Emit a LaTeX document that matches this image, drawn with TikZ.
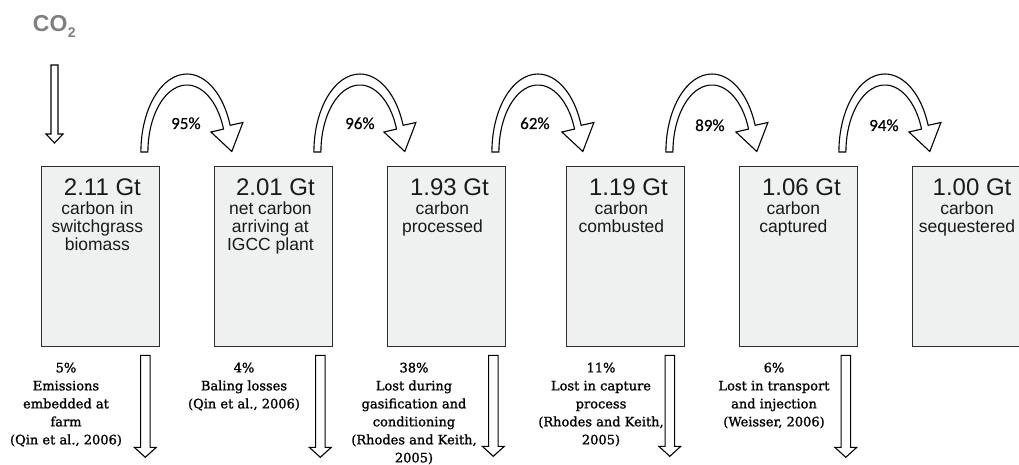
\documentclass[tikz,border=0pt]{standalone}
\usepackage{fontspec}
\setmainfont{Liberation Sans}
\newfontfamily\lossfont[FakeBold=1.2]{DejaVu Serif}
\newfontfamily\pctfont[FakeBold=0.5]{Carlito}
\usetikzlibrary{calc}
\definecolor{boxfill}{HTML}{EFF0F0}
\definecolor{boxline}{HTML}{2E2E2E}
\definecolor{cogray}{HTML}{7F7F7F}
\definecolor{txt}{HTML}{1A1A1A}
\tikzset{
  stockbox/.style={draw=boxline, line width=1.3pt, fill=boxfill, minimum width=117.5pt,
    minimum height=180pt, inner sep=0pt, anchor=north west},
  titletext/.style={font=\fontsize{24}{26}\selectfont, text=txt, anchor=base, inner sep=0pt},
  bodytext/.style={font=\fontsize{17.5}{18}\selectfont, text=txt, align=center, anchor=north, inner sep=0pt},
  losstext/.style={font=\lossfont\fontsize{13}{18}\selectfont, text=black, align=center, anchor=north, inner sep=0pt},
  pcttext/.style={font=\pctfont\fontsize{17}{18}\selectfont, text=black, anchor=base, inner sep=0pt},
  blockarrow/.style={draw=black, line width=1.1pt, fill=white, line join=miter},
}
% bent block arrow around ellipse centre #1
\newcommand\bentarrow[1]{%
  \draw[blockarrow] ($(#1)+(-46,0)$) arc[start angle=180,end angle=20,x radius=46pt,y radius=78pt]
    -- ($(#1)+(56,-29.5)$) -- ($(#1)+(44.9,-0.5)$) -- ($(#1)+(24,-20)$)
    -- ($(#1)+(36.65,-22.92)$) arc[start angle=20,end angle=180,x radius=39pt,y radius=67pt]
    -- cycle;}
% straight down block arrow: #1 top centre, #2 shaft half width, #3 head half width, #4 length, #5 head length
\newcommand\downblock[5]{%
  \draw[blockarrow] ($(#1)+(-#2,0)$) -- ($(#1)+(#2,0)$) -- ($(#1)+(#2,#4-#5)$) -- ($(#1)+(#3,#4-#5)$)
    -- ($(#1)+(0,#4)$) -- ($(#1)+(-#3,#4-#5)$) -- ($(#1)+(-#2,#4-#5)$) -- cycle;}
\begin{document}
\begin{tikzpicture}[x=1pt,y=-1pt]
\useasboundingbox (0,0) rectangle (1019,465);
\clip (0,0) rectangle (1019,465);
\fill[white] (0,0) rectangle (1019,465);

% CO2
\node[anchor=base west, inner sep=0pt, text=cogray, font=\bfseries\fontsize{23}{23}\selectfont] (co2) at (32.7,31.7)
  {CO\kern0.5pt\raisebox{-6.3pt}{\fontsize{14}{14}\selectfont 2}};
\coordinate (a0) at (54.5,65);
\downblock{a0}{3.5}{8.5}{78}{9}

% boxes
\node[stockbox] (b1) at (41,166) {};
\node[stockbox] (b2) at (214,166) {};
\node[stockbox] (b3) at (387,166) {};
\node[stockbox] (b4) at (566,166) {};
\node[stockbox] (b5) at (739,166) {};
\node[stockbox, minimum width=125pt] (b6) at (912,166) {};

\node[titletext] (t1) at ($(b1.north)+(2,29)$) {2.11 Gt};
\node[bodytext]  (s1) at ($(b1.north)+(-3,36)$) {carbon in\\switchgrass\\biomass};
\node[titletext] (t2) at ($(b2.north)+(2,29)$) {2.01 Gt};
\node[bodytext]  (s2) at ($(b2.north)+(-3,36)$) {net carbon\\arriving at\\IGCC plant};
\node[titletext] (t3) at ($(b3.north)+(3,29)$) {1.93 Gt};
\node[bodytext]  (s3) at ($(b3.north)+(-4,36)$) {carbon\\processed};
\node[titletext] (t4) at ($(b4.north)+(3,29)$) {1.19 Gt};
\node[bodytext]  (s4) at ($(b4.north)+(-4,36)$) {carbon\\combusted};
\node[titletext] (t5) at ($(b5.north)+(3,29)$) {1.06 Gt};
\node[bodytext]  (s5) at ($(b5.north)+(-5,36)$) {carbon\\captured};
\node[titletext] (t6) at (972,195) {1.00 Gt};
\node[bodytext]  (s6) at (967,202) {carbon\\sequestered};

% bent arrows between boxes
\coordinate (c1) at ($(b1.north east)!0.5!(b2.north west)+(0,-14)$);
\coordinate (c2) at ($(b2.north east)!0.5!(b3.north west)+(0,-14)$);
\coordinate (c3) at ($(b3.north east)!0.5!(b4.north west)+(2,-14)$);
\coordinate (c4) at ($(b4.north east)!0.5!(b5.north west)+(0,-14)$);
\coordinate (c5) at ($(b5.north east)!0.5!(b6.north west)+(0,-14)$);
\bentarrow{c1}\bentarrow{c2}\bentarrow{c3}\bentarrow{c4}\bentarrow{c5}
\node[pcttext] (p1) at ($(c1)+(-1,-23)$) {95\%};
\node[pcttext] (p2) at ($(c2)+(0,-23)$) {96\%};
\node[pcttext] (p3) at ($(c3)+(-3,-23)$) {62\%};
\node[pcttext] (p4) at ($(c4)+(-2,-21)$) {89\%};
\node[pcttext] (p5) at ($(c5)+(-1,-21)$) {94\%};

% loss arrows
\coordinate (d1) at ($(b1.south east)+(-14.5,8)$);
\coordinate (d2) at ($(b2.south east)+(-12.5,8)$);
\coordinate (d3) at ($(b3.south east)+(-12.5,8)$);
\coordinate (d4) at ($(b4.south east)+(-15,8)$);
\coordinate (d5) at ($(b5.south east)+(-12,8)$);
\downblock{d1}{4.75}{11}{102}{10}
\downblock{d2}{4.75}{11}{102}{10}
\downblock{d3}{4.75}{11}{101}{10}
\downblock{d4}{4.75}{11}{101}{10}
\downblock{d5}{4.75}{11}{102}{10}

% loss texts
\node[losstext] (l1) at (66,362.5) {5\%\\Emissions\\embedded at\\farm\\(Qin et al., 2006)};
\node[losstext] (l2) at (244,362.5) {4\%\\Baling losses\\(Qin et al., 2006)};
\node[losstext] (l3) at (414,362.5) {38\%\\Lost during\\gasification and\\conditioning\\(Rhodes and Keith,\\2005)};
\node[losstext] (l4) at (601,362.5) {11\%\\Lost in capture\\process\\(Rhodes and Keith,\\2005)};
\node[losstext] (l5) at (774,362.5) {6\%\\Lost in transport\\and injection\\(Weisser, 2006)};
\end{tikzpicture}
\end{document}
